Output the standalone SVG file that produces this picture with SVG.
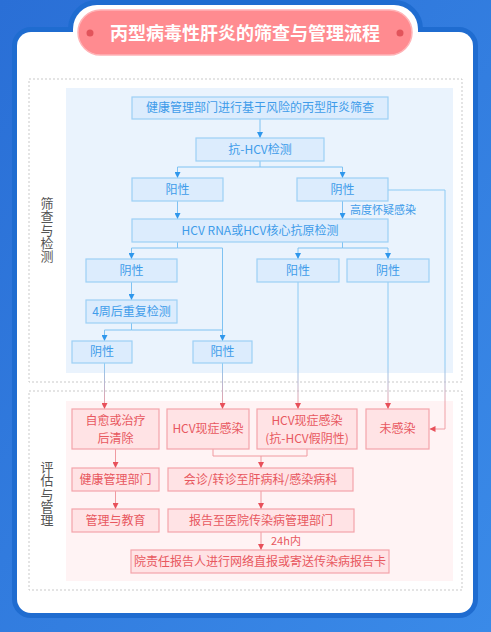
<svg xmlns="http://www.w3.org/2000/svg" width="491" height="632" viewBox="0 0 491 632">
<defs>
<linearGradient id="bg" x1="0" y1="0" x2="1" y2="1">
<stop offset="0" stop-color="#2a6fd6"/><stop offset="1" stop-color="#3a8ae8"/>
</linearGradient>
<linearGradient id="cross" gradientUnits="userSpaceOnUse" x1="0" y1="365" x2="0" y2="405">
<stop offset="0" stop-color="#8ccaf4"/><stop offset="1" stop-color="#f0a0a6"/>
</linearGradient>
<marker id="ab" viewBox="0 0 6 6" refX="6" refY="3" markerWidth="6" markerHeight="6" markerUnits="userSpaceOnUse" orient="auto"><path d="M0,0 L6,3 L0,6 z" fill="#2f97ec"/></marker>
<marker id="ap" viewBox="0 0 6 6" refX="6" refY="3" markerWidth="6" markerHeight="6" markerUnits="userSpaceOnUse" orient="auto"><path d="M0,0 L6,3 L0,6 z" fill="#e8505a"/></marker>
</defs>
<style>
text{font-family:"Noto Sans CJK SC","Noto Sans",sans-serif;}
.bb{fill:#dcecfd;stroke:#9cd0f6;stroke-width:1.2;}
.pb{fill:#ffe3e5;stroke:#f3a4aa;stroke-width:1.2;}
.bt{fill:#3f9cea;font-size:12px;text-anchor:middle;}
.pt{fill:#e8585f;font-size:12px;text-anchor:middle;}
.bl{fill:none;stroke:#7fc2f2;stroke-width:1;}
.pl{fill:none;stroke:#f09aa0;stroke-width:1;}
.cl{fill:none;stroke:url(#cross);stroke-width:1;}
.sec{fill:none;stroke:#c9c9c9;stroke-width:1;stroke-dasharray:2 2;}
.side{fill:#555;font-size:13px;text-anchor:middle;writing-mode:vertical-rl;letter-spacing:0.3px;}
</style>
<rect x="0" y="0" width="491" height="632" fill="url(#bg)"/>
<g id="card">
<rect x="17" y="32" width="456" height="581" rx="14" fill="#1f6cd0" stroke="#1f6cd0" stroke-width="10"/>
<rect x="73" y="5" width="345" height="60" rx="24" fill="#1f6cd0" stroke="#1f6cd0" stroke-width="10"/>
<rect x="17" y="32" width="456" height="581" rx="14" fill="#ffffff"/>
<rect x="73" y="5" width="345" height="60" rx="24" fill="#ffffff"/>
</g>
<g id="title">
<rect x="78" y="10" width="334" height="45" rx="22.5" fill="#ff8b90" stroke="#ffb3b6" stroke-width="1.5"/>
<circle cx="90" cy="33" r="3.5" fill="#e2545b"/>
<circle cx="400" cy="33" r="3.5" fill="#e2545b"/>
<text x="245" y="39.5" fill="#ffffff" font-size="18" font-weight="bold" text-anchor="middle">丙型病毒性肝炎的筛查与管理流程</text>
</g>
<g id="sections">
<rect class="sec" x="29" y="79" width="433" height="303"/>
<rect class="sec" x="29" y="391" width="433" height="199"/>
<rect x="66" y="88" width="387" height="285" fill="#eaf3fd"/>
<rect x="66" y="401" width="387" height="180" fill="#fff3f4"/>
<text class="side" x="47" y="230">筛查与检测</text>
<text class="side" x="47" y="494">评估与管理</text>
</g>
<g id="connectors">
<path class="bl" d="M260,119 V138" marker-end="url(#ab)"/>
<path class="bl" d="M260,161 V167 H177.5 V178" marker-end="url(#ab)"/>
<path class="bl" d="M260,167 H342.5 V178" marker-end="url(#ab)"/>
<path class="bl" d="M177.5,201 V219" marker-end="url(#ab)"/>
<path class="bl" d="M342.5,201 V219" marker-end="url(#ab)"/>
<path class="bl" d="M177.5,242 V248 H131.5 V259" marker-end="url(#ab)"/>
<path class="bl" d="M177.5,248 H222.5 V341" marker-end="url(#ab)"/>
<path class="bl" d="M342.5,242 V248 H298 V259" marker-end="url(#ab)"/>
<path class="bl" d="M342.5,248 H388 V259" marker-end="url(#ab)"/>
<path class="bl" d="M131.5,282 V300" marker-end="url(#ab)"/>
<path class="bl" d="M131.5,323 V330 H104.5 V341" marker-end="url(#ab)"/>
<path class="bl" d="M131.5,330 H222.5"/>
<path class="cl" d="M104.5,363 V409" marker-end="url(#ap)"/>
<path class="cl" d="M222.5,363 V409" marker-end="url(#ap)"/>
<path class="cl" d="M298,282 V409" marker-end="url(#ap)"/>
<path class="cl" d="M388,282 V409" marker-end="url(#ap)"/>
<path class="cl" d="M388,190 H445 V429 H429.5" marker-end="url(#ap)"/>
<path class="pl" d="M115.5,449 V468" marker-end="url(#ap)"/>
<path class="pl" d="M115.5,491 V509" marker-end="url(#ap)"/>
<path class="pl" d="M213,449 V456 H307 V449"/>
<path class="pl" d="M261,456 V468" marker-end="url(#ap)"/>
<path class="pl" d="M261,491 V509" marker-end="url(#ap)"/>
<path class="pl" d="M261,532 V550" marker-end="url(#ap)"/>
<text x="350" y="214" fill="#3f9cea" font-size="11">高度怀疑感染</text>
<text x="271" y="545" fill="#e8585f" font-size="11">24h内</text>
</g>
<g id="n1"><rect class="bb" x="132" y="97" width="256" height="22"/><text class="bt" x="260" y="112.2">健康管理部门进行基于风险的丙型肝炎筛查</text></g>
<g id="n2"><rect class="bb" x="196" y="138" width="128" height="23"/><text class="bt" x="260" y="153.7">抗-HCV检测</text></g>
<g id="n3"><rect class="bb" x="132" y="178" width="91" height="23"/><text class="bt" x="177.5" y="193.7">阳性</text></g>
<g id="n4"><rect class="bb" x="297" y="178" width="91" height="23"/><text class="bt" x="342.5" y="193.7">阴性</text></g>
<g id="n5"><rect class="bb" x="132" y="219" width="256" height="23"/><text class="bt" x="260" y="234.7">HCV RNA或HCV核心抗原检测</text></g>
<g id="n6"><rect class="bb" x="86" y="259" width="91" height="23"/><text class="bt" x="131.5" y="274.7">阴性</text></g>
<g id="n7"><rect class="bb" x="86" y="300" width="91" height="23"/><text class="bt" x="131.5" y="315.7">4周后重复检测</text></g>
<g id="n8"><rect class="bb" x="72" y="341" width="60" height="22"/><text class="bt" x="102" y="356.2">阴性</text></g>
<g id="n9"><rect class="bb" x="193" y="341" width="59" height="22"/><text class="bt" x="222.5" y="356.2">阳性</text></g>
<g id="n10"><rect class="bb" x="257" y="259" width="82" height="23"/><text class="bt" x="298" y="274.7">阳性</text></g>
<g id="n11"><rect class="bb" x="347" y="259" width="82" height="23"/><text class="bt" x="388" y="274.7">阴性</text></g>
<g id="p1"><rect class="pb" x="72" y="409" width="87" height="40"/><text class="pt" x="115.5" y="425">自愈或治疗</text><text class="pt" x="115.5" y="443">后清除</text></g>
<g id="p2"><rect class="pb" x="167" y="409" width="82" height="40"/><text class="pt" x="208" y="433.2">HCV现症感染</text></g>
<g id="p3"><rect class="pb" x="257" y="409" width="100" height="40"/><text class="pt" x="307" y="425">HCV现症感染</text><text class="pt" x="307" y="443">(抗-HCV假阴性)</text></g>
<g id="p4"><rect class="pb" x="366" y="409" width="63" height="40"/><text class="pt" x="397.5" y="433.2">未感染</text></g>
<g id="p5"><rect class="pb" x="72" y="468" width="87" height="23"/><text class="pt" x="115.5" y="483.7">健康管理部门</text></g>
<g id="p6"><rect class="pb" x="168" y="468" width="185" height="23"/><text class="pt" x="260.5" y="483.7">会诊/转诊至肝病科/感染病科</text></g>
<g id="p7"><rect class="pb" x="72" y="509" width="87" height="23"/><text class="pt" x="115.5" y="524.7">管理与教育</text></g>
<g id="p8"><rect class="pb" x="168" y="509" width="186" height="23"/><text class="pt" x="261" y="524.7">报告至医院传染病管理部门</text></g>
<g id="p9"><rect class="pb" x="131" y="550" width="258" height="23"/><text class="pt" x="260" y="565.7">院责任报告人进行网络直报或寄送传染病报告卡</text></g>
</svg>
